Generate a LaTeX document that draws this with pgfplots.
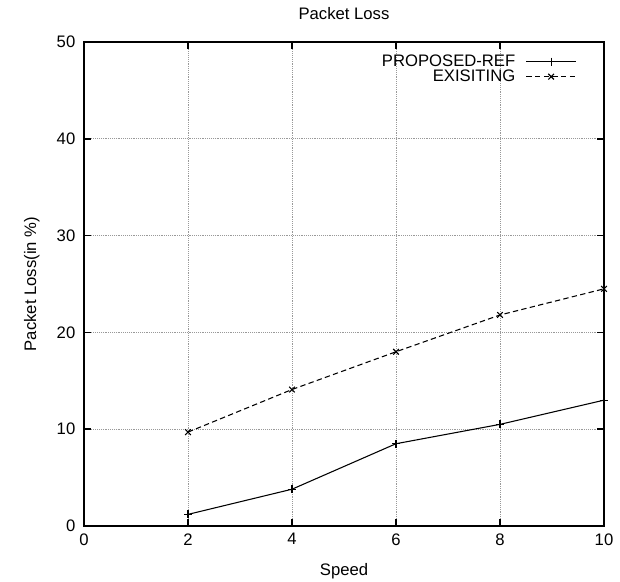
\documentclass[border=0pt]{standalone}
\usepackage{fontspec}
\setmainfont{Liberation Sans}
\usepackage{pgfplots}
\pgfplotsset{compat=1.18}
\begin{document}
\begin{tikzpicture}
\useasboundingbox (-63pt,-41.25pt) rectangle (402pt,394.5pt);
\begin{axis}[
  at={(0,0)}, anchor=south west,
  scale only axis, width=390pt, height=363pt,
  xmin=0, xmax=10, ymin=0, ymax=50,
  xtick={0,2,4,6,8,10}, ytick={0,10,20,30,40,50},
  font=\fontsize{12.5}{15}\selectfont,
  /pgf/number format/assume math mode=true,
  xticklabel style={yshift=-2pt},
  yticklabel style={xshift=-3pt},
  tick align=inside, tick style={line width=1.2pt, black},
  major tick length=5pt,
  axis line style={line width=1.4pt},
  grid=major, grid style={densely dotted, gray!80, line width=0.5pt},
  title={Packet Loss},
  title style={yshift=7pt},
  xlabel={Speed}, ylabel={Packet Loss(in \%)},
  xlabel style={yshift=-7pt},
  ylabel style={yshift=6pt},
  legend style={draw=none, fill=none, at={(0.955,0.985)}, anchor=north east,
    font=\fontsize{12.5}{15}\selectfont, row sep=-3pt,
    /tikz/column 1/.style={column sep=6pt}},
  legend cell align=right,
  legend plot pos=right,
  legend image code/.code={\draw[#1, mark repeat=2, mark phase=2] plot coordinates {(0cm,0cm) (0.65cm,0cm) (1.3cm,0cm)};},
]
\addplot[black, line width=0.8pt, mark=+, mark size=3pt, mark options={solid}] coordinates {
 (2,1.2) (4,3.8) (6,8.5) (8,10.5) (10,13.0)};
\addlegendentry{PROPOSED-REF}
\addplot[black, line width=0.8pt, dash pattern=on 4pt off 2.5pt, mark=x, mark size=3pt, mark options={solid}] coordinates {
 (2,9.7) (4,14.1) (6,18.0) (8,21.8) (10,24.5)};
\addlegendentry{EXISITING}
\end{axis}
\end{tikzpicture}
\end{document}
